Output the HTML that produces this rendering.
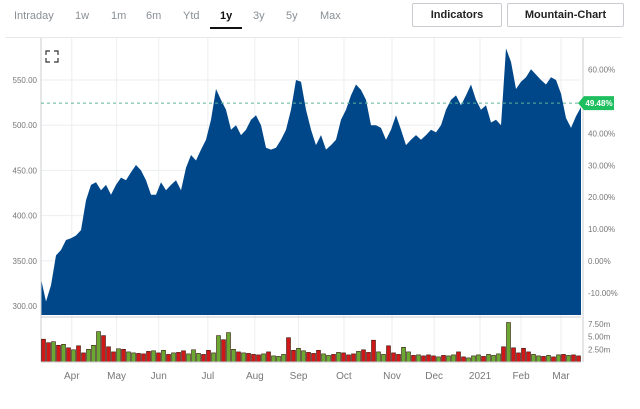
<!DOCTYPE html>
<html><head><meta charset="utf-8"><style>
body{margin:0;background:#fff;font-family:"Liberation Sans",sans-serif;}
.tab{position:absolute;top:10px;font-size:11px;color:#8a8f95;}
.btn{position:absolute;top:3px;height:22px;border:1px solid #c9ccd0;border-radius:2px;font-size:11px;font-weight:bold;color:#222;text-align:center;line-height:22px;background:#fff;}
</style></head><body>
<div style="position:relative;width:640px;height:409px;overflow:hidden;">
<div class="tab" style="left:14px">Intraday</div>
<div class="tab" style="left:75px">1w</div>
<div class="tab" style="left:111px">1m</div>
<div class="tab" style="left:146px">6m</div>
<div class="tab" style="left:183px">Ytd</div>
<div class="tab" style="left:220px;color:#111;font-weight:bold">1y</div>
<div style="position:absolute;left:210px;top:27px;width:32px;height:2px;background:#111"></div>
<div class="tab" style="left:253px">3y</div>
<div class="tab" style="left:286px">5y</div>
<div class="tab" style="left:320px">Max</div>
<div class="btn" style="left:412px;width:88px">Indicators</div>
<div class="btn" style="left:507px;width:115px">Mountain-Chart</div>
<div style="position:absolute;left:5px;top:37px;width:617px;height:1px;background:#e6e8ea"></div>
<svg id="chart" width="640" height="409" style="position:absolute;left:0;top:0" font-family="Liberation Sans, sans-serif"></svg>
</div>
<script>
const months=["Apr","May","Jun","Jul","Aug","Sep","Oct","Nov","Dec","2021","Feb","Mar"];
const monthPos=[0.057,0.140,0.218,0.309,0.396,0.477,0.561,0.650,0.728,0.813,0.889,0.963];
const priceTicks=[300,350,400,450,500,550];
const pctTicks=[-10,0,10,20,30,40,50,60];
const volTicks=[2.5,5,7.5];
const lastPct=49.48;
const prices=[330,305,323,356,362,373,375,378,384,417,434,437,428,434,423,434,442,439,448,456,450,439,423,423,437,428,434,439,428,453,467,461,473,484,506,540,528,517,495,500,489,495,506,511,500,475,473,475,484,495,517,550,548,517,495,478,489,473,478,484,506,517,533,545,539,528,500,500,497,484,495,511,495,478,484,489,484,489,495,492,500,517,528,533,522,533,545,528,517,522,503,506,500,585,570,540,548,553,562,556,550,545,553,550,535,508,497,510,520];
const volumes=[4.5,3.8,4.0,3.3,3.5,2.8,2.4,3.2,1.8,2.5,3.3,6.0,5.2,3.0,2.0,2.6,2.5,2.0,1.8,1.7,1.6,2.1,2.2,1.8,2.3,1.5,1.8,1.9,2.2,1.6,2.4,1.7,1.5,2.3,1.8,5.2,4.4,5.8,2.5,2.0,1.8,1.7,1.5,1.4,1.6,2.0,1.2,1.1,1.5,4.8,2.3,2.7,2.2,1.9,1.7,2.3,1.6,1.3,1.5,1.9,1.8,1.4,1.6,2.1,2.4,1.9,4.3,2.0,1.5,3.2,1.8,1.5,2.9,2.0,1.3,1.4,1.2,1.4,1.2,1.0,1.3,1.2,1.4,2.0,1.0,0.8,1.2,1.4,1.1,1.5,1.3,1.6,3.0,7.8,2.8,1.8,2.7,2.0,1.5,1.2,1.1,1.3,1.0,1.4,1.5,1.3,1.4,1.2];
const volUp="0010101001110001011000101010011100110110100010111001100011010001000110001101000101100111011101000011010101";

const svg=document.getElementById('chart');
const NS='http://www.w3.org/2000/svg';
function mk(t,a,txt){const e=document.createElementNS(NS,t);for(const k in a)e.setAttribute(k,a[k]);if(txt!==undefined)e.textContent=txt;svg.appendChild(e);return e;}
const L=41,R=581;
const yP=v=>306-(v-300)*0.904;
const yPct=p=>261-p*3.19;
const yV=v=>362-v*5.07;
const xI=(i,n)=>L+(R-L)*i/(n-1);
const xM=f=>L+(R-L)*f;

// gridlines
for(let i=0;i<monthPos.length;i++){
  const g=mk('line',{x1:xM(monthPos[i]),x2:xM(monthPos[i]),y1:38,y2:362,stroke:'#eceef0','stroke-width':1});
  
  
  const t=mk('text',{x:xM(monthPos[i]),y:379,'font-size':10,fill:'#777','text-anchor':'middle'},months[i]);
  
  
}
for(const p of priceTicks){
  const g=mk('line',{x1:L,x2:R,y1:yP(p),y2:yP(p),stroke:'#eceef0'});
  
  
  const t=mk('text',{x:37,y:yP(p)+3,'font-size':8,fill:'#777','text-anchor':'end'},p.toFixed(2));
  
  
}
for(const p of pctTicks){
  if(p===50)continue;
  const t=mk('text',{x:588,y:yPct(p)+3,'font-size':8,fill:'#777'},p.toFixed(2)+'%');
  
  
}
// area
let d='M'+L+' 315';
prices.forEach((v,i)=>{d+=' L'+xI(i,prices.length).toFixed(1)+' '+yP(v).toFixed(1);});
d+=' L'+R+' 315 Z';
const area=mk('path',{d:d,fill:'#00478a'});


// axes
const ax=mk('line',{x1:L,x2:L,y1:38,y2:362,stroke:'#c8ccd0'});


const ax2=mk('line',{x1:583,x2:583,y1:38,y2:362,stroke:'#c8ccd0'});


// last line
const dl=mk('line',{x1:L,x2:R,y1:yPct(lastPct),y2:yPct(lastPct),stroke:'#5fb49a','stroke-dasharray':'3,3'});


const bd=mk('path',{d:`M578 ${yPct(lastPct)} L584 ${yPct(lastPct)-7} L614 ${yPct(lastPct)-7} L614 ${yPct(lastPct)+7} L584 ${yPct(lastPct)+7} Z`,fill:'#1fbf5f'});


const bt=mk('text',{x:599,y:yPct(lastPct)+3,'font-size':8,'font-weight':'bold',fill:'#fff','text-anchor':'middle'},lastPct.toFixed(2)+'%');


// expand icon
const ic=mk('path',{d:'M46 55v-4h4 M54 51h4v4 M58 58v4h-4 M50 62h-4v-4',stroke:'#333',fill:'none','stroke-width':1.2});


// volume
const vl=mk('line',{x1:L,x2:R,y1:317,y2:317,stroke:'#c8ccd0'});


const n=volumes.length,bw=(R-L)/n;
volumes.forEach((v,i)=>{
  const up=volUp[i]==='1';
  const b=mk('rect',{x:(L+i*bw+0.5).toFixed(1),y:yV(v).toFixed(1),width:(bw-1).toFixed(1),height:(362-yV(v)).toFixed(1),fill:up?'#6aa832':'#d01818',stroke:'#3a1a10','stroke-width':0.6});
  
  
});
for(const v of volTicks){
  const t=mk('text',{x:588,y:yV(v)+3,'font-size':8,fill:'#777'},v.toFixed(2)+'m');
  
  
}
const vb=mk('line',{x1:L,x2:R,y1:362,y2:362,stroke:'#c8ccd0'});


</script>
</body></html>
